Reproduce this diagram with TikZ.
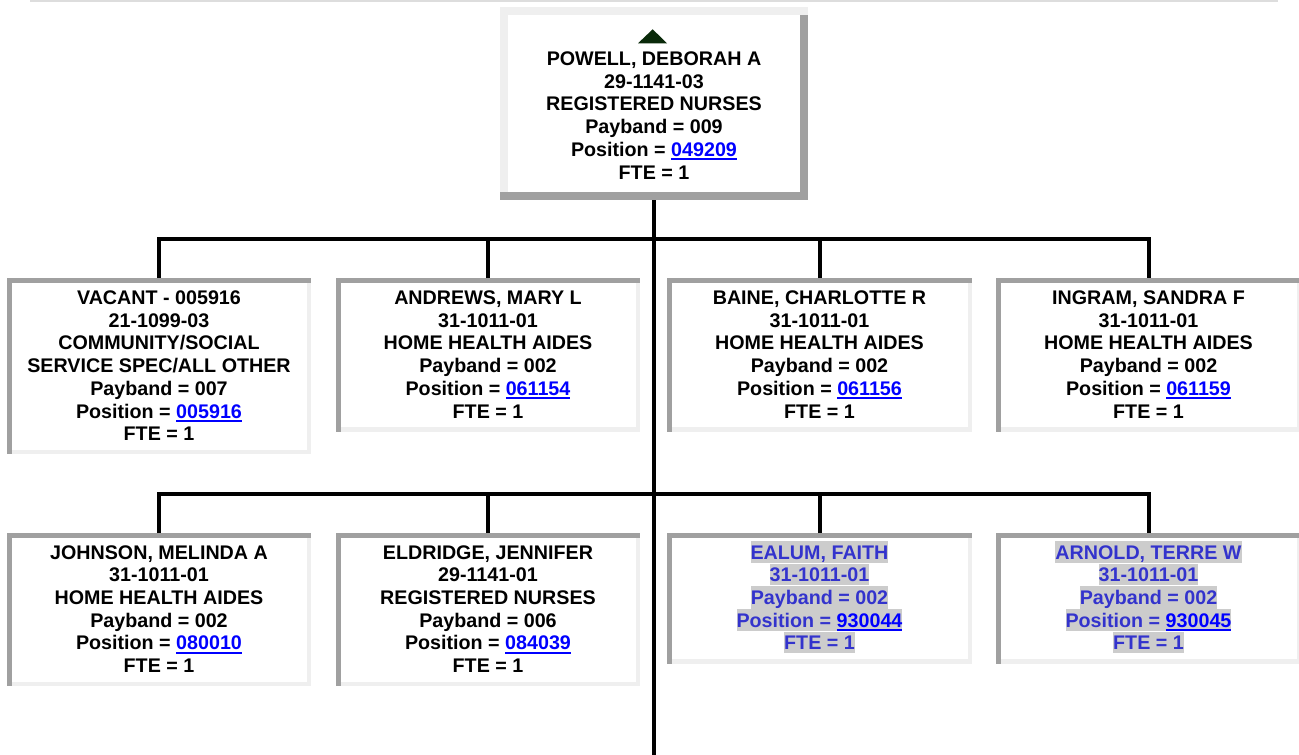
\documentclass[tikz,border=0pt]{standalone}
\usepackage{fontspec}
\setmainfont{Liberation Sans}
\usetikzlibrary{calc}
\definecolor{bdark}{HTML}{A0A0A0}
\definecolor{blight}{HTML}{EFEFEF}
\definecolor{topline}{HTML}{DDDDDD}
\definecolor{linkblue}{HTML}{0000FF}
\definecolor{hlgray}{HTML}{CCCCCC}
\definecolor{hlblue}{RGB}{51,51,204}
\definecolor{trigreen}{RGB}{10,42,10}
\newcommand\st{\rule[-3.5pt]{0pt}{21.5pt}}
\newcommand\lnk[1]{\textcolor{linkblue}{\setbox0=\hbox{#1}\rlap{\rule[-4pt]{\wd0}{2.2pt}}\box0}}
\newcommand\hl[1]{{\setlength{\fboxsep}{0pt}\colorbox{hlgray}{\rule[-3.5pt]{0pt}{21.5pt}#1}}}
\newcommand\insetborders[1]{%
  \fill[bdark] (#1.north west) rectangle ($(#1.north east)+(0,4.5)$);
  \fill[bdark] (#1.north west) rectangle ($(#1.south west)+(4.5,0)$);
  \fill[blight] ($(#1.south west)+(4.5,-4.5)$) rectangle (#1.south east);
  \fill[blight] ($(#1.north east)+(-4.5,4.5)$) rectangle (#1.south east);
}
\newcommand\outsetborders[1]{%
  \fill[blight] (#1.north west) rectangle ($(#1.north east)+(0,8)$);
  \fill[blight] (#1.north west) rectangle ($(#1.south west)+(8,0)$);
  \fill[bdark] ($(#1.south west)+(0,-8)$) rectangle (#1.south east);
  \fill[bdark] ($(#1.north east)+(-8,8)$) rectangle (#1.south east);
}
\begin{document}
\begin{tikzpicture}[x=1pt,y=-1pt,
  cbox/.style={fill=white, draw=none, inner sep=0pt, outer sep=0pt},
  conn/.style={draw=black, line width=4pt},
  txt/.style={anchor=north, inner sep=0pt, outer sep=0pt, align=center,
    font=\bfseries\fontsize{19.7}{22.7}\selectfont},
  hltxt/.style={txt, text=hlblue}]
\useasboundingbox (0,0) rectangle (1299,755);
\fill[white] (0,0) rectangle (1299,755);
\draw[topline, line width=1.5pt] (30,0.75) -- (1278,0.75);

% boxes
\node[cbox, minimum width=308pt, minimum height=193pt] (boss) at (654,103.5) {};
\outsetborders{boss}
\node[cbox, minimum width=304pt, minimum height=176pt] (c1) at (159,366) {};
\node[cbox, minimum width=304pt, minimum height=153.5pt] (c2) at (488,354.75) {};
\node[cbox, minimum width=305pt, minimum height=153.5pt] (c3) at (819.5,354.75) {};
\node[cbox, minimum width=305pt, minimum height=153.5pt] (c4) at (1148.5,354.75) {};
\node[cbox, minimum width=304pt, minimum height=153pt] (d1) at (159,609.5) {};
\node[cbox, minimum width=304pt, minimum height=153pt] (d2) at (488,609.5) {};
\node[cbox, minimum width=305pt, minimum height=130.5pt] (d3) at (819.5,598.25) {};
\node[cbox, minimum width=305pt, minimum height=130.5pt] (d4) at (1148.5,598.25) {};
\insetborders{c1}\insetborders{c2}\insetborders{c3}\insetborders{c4}
\insetborders{d1}\insetborders{d2}\insetborders{d3}\insetborders{d4}

% connectors
\coordinate (bar1) at (654,239);
\coordinate (bar2) at (654,494);
\coordinate (stemend) at (654,755);
\draw[conn] (boss.south) -- (boss.south |- stemend);
\draw[conn] (c1.north) |- (bar1) -| (c4.north);
\draw[conn] (c2.north) -- (c2.north |- bar1);
\draw[conn] (c3.north) -- (c3.north |- bar1);
\draw[conn] (d1.north) |- (bar2) -| (d4.north);
\draw[conn] (d2.north) -- (d2.north |- bar2);
\draw[conn] (d3.north) -- (d3.north |- bar2);

% marker
\fill[trigreen] (638,43.3) -- (652.7,29.3) -- (667,43.3) -- cycle;

% texts
\node[txt] (tboss) at (654,47.55) {\st POWELL, DEBORAH A\\29-1141-03\\REGISTERED NURSES\\Payband = 009\\Position = \lnk{049209}\\FTE = 1};
\node[txt] (tc1) at (159,286.55) {\st VACANT - 005916\\21-1099-03\\COMMUNITY/SOCIAL\\SERVICE SPEC/ALL OTHER\\Payband = 007\\Position = \lnk{005916}\\FTE = 1};
\node[txt] (tc2) at (488,286.55) {\st ANDREWS, MARY L\\31-1011-01\\HOME HEALTH AIDES\\Payband = 002\\Position = \lnk{061154}\\FTE = 1};
\node[txt] (tc3) at (819.5,286.55) {\st BAINE, CHARLOTTE R\\31-1011-01\\HOME HEALTH AIDES\\Payband = 002\\Position = \lnk{061156}\\FTE = 1};
\node[txt] (tc4) at (1148.5,286.55) {\st INGRAM, SANDRA F\\31-1011-01\\HOME HEALTH AIDES\\Payband = 002\\Position = \lnk{061159}\\FTE = 1};
\node[txt] (td1) at (159,541.05) {\st JOHNSON, MELINDA A\\31-1011-01\\HOME HEALTH AIDES\\Payband = 002\\Position = \lnk{080010}\\FTE = 1};
\node[txt] (td2) at (488,541.05) {\st ELDRIDGE, JENNIFER\\29-1141-01\\REGISTERED NURSES\\Payband = 006\\Position = \lnk{084039}\\FTE = 1};
\node[hltxt] (td3) at (819.5,541.05) {\hl{EALUM, FAITH}\\\hl{31-1011-01}\\\hl{Payband = 002}\\\hl{Position = \lnk{930044}}\\\hl{FTE = 1}};
\node[hltxt] (td4) at (1148.5,541.05) {\hl{ARNOLD, TERRE W}\\\hl{31-1011-01}\\\hl{Payband = 002}\\\hl{Position = \lnk{930045}}\\\hl{FTE = 1}};
\end{tikzpicture}
\end{document}
